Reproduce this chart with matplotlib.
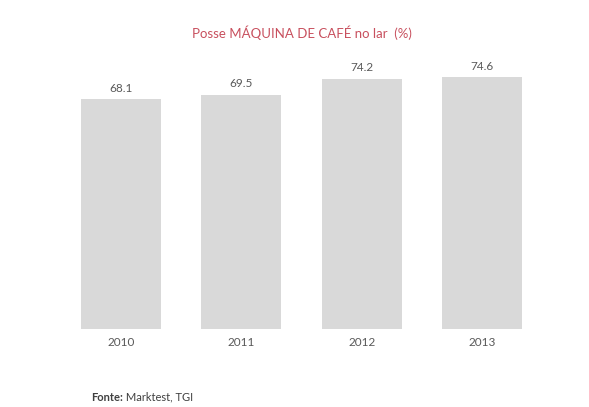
import matplotlib.pyplot as plt

years = ['2010', '2011', '2012', '2013']
values = [68.1, 69.5, 74.2, 74.6]

bar_color = '#d9d9d9'
text_color = '#595959'
title_color = '#c8505e'

plt.rcParams['font.family'] = ['Lato', 'DejaVu Sans']

fig = plt.figure(figsize=(5.89, 4.07), dpi=100)
ax = fig.add_axes([0.1036, 0.1916, 0.817, 0.663])

x = range(len(years))
ax.bar(x, values, width=0.665, color=bar_color)
for xi, v in zip(x, values):
	ax.text(xi, v + 1.6, f'{v:.1f}', ha='center', va='bottom', fontsize=8.5, color=text_color)

ax.set_xlim(-0.5, 3.5)
ax.set_ylim(0, 80)
ax.set_xticks(list(x))
ax.set_xticklabels(years, fontsize=8.5, color=text_color)
ax.tick_params(axis='x', length=0, pad=6)
ax.set_yticks([])
for side in ['top', 'right', 'left', 'bottom']:
	ax.spines[side].set_visible(False)

fig.text(0.512, 0.92, 'Posse MÁQUINA DE CAFÉ no lar  (%)', ha='center', va='center',
	fontsize=9.5, color=title_color)

# source line: bold label followed by plain text
fonte = fig.text(0.155, 0.024, 'Fonte:', ha='left', va='center', fontsize=8, color='#404040', fontweight='bold')
ax.annotate(' Marktest, TGI', xy=(1, 0.5), xycoords=fonte, va='center', ha='left',
	fontsize=8, color='#404040', annotation_clip=False)

fig.savefig('out.png', dpi=100)
